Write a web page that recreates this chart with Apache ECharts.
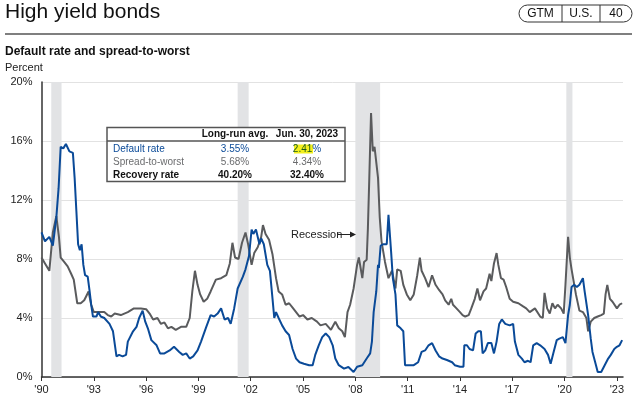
<!DOCTYPE html>
<html>
<head>
<meta charset="utf-8">
<script src="https://cdn.jsdelivr.net/npm/echarts@6/dist/echarts.min.js"></script>
<style>html,body{margin:0;padding:0;background:#fff}#c{width:640px;height:400px}</style>
</head>
<body>
<div id="c"></div>
<script>
var BASE_YEAR = 1990;
var tickYears = [1990,1993,1996,1999,2002,2005,2008,2011,2014,2017,2020,2023];
var recessions = [[1990.56,1991.15],[2001.25,2001.88],[2008.0,2009.42],[2020.1,2020.45]];

var spreadYears = [1990.0,1990.2,1990.45,1990.65,1990.85,1991.0,1991.1,1991.3,1991.5,1991.7,1991.85,1992.05,1992.25,1992.45,1992.7,1992.85,1993.0,1993.3,1993.6,1993.8,1994.0,1994.2,1994.55,1994.95,1995.3,1995.7,1996.0,1996.2,1996.4,1996.65,1996.85,1997.05,1997.25,1997.45,1997.7,1998.0,1998.3,1998.5,1998.65,1998.8,1998.95,1999.1,1999.3,1999.5,1999.7,2000.0,2000.3,2000.6,2000.8,2000.95,2001.1,2001.3,2001.5,2001.7,2001.85,2002.05,2002.2,2002.4,2002.6,2002.7,2002.85,2003.05,2003.25,2003.45,2003.6,2003.8,2004.0,2004.2,2004.4,2004.6,2004.8,2005.0,2005.25,2005.5,2005.8,2006.0,2006.3,2006.6,2006.85,2007.05,2007.25,2007.4,2007.55,2007.7,2007.9,2008.1,2008.2,2008.4,2008.5,2008.65,2008.72,2008.8,2008.9,2009.0,2009.1,2009.2,2009.3,2009.4,2009.5,2009.7,2009.9,2010.1,2010.3,2010.4,2010.6,2010.75,2010.95,2011.15,2011.35,2011.55,2011.7,2011.8,2012.0,2012.2,2012.4,2012.6,2012.8,2013.0,2013.15,2013.35,2013.5,2013.6,2013.8,2014.0,2014.15,2014.3,2014.5,2014.65,2014.85,2015.0,2015.15,2015.35,2015.5,2015.7,2015.8,2015.95,2016.1,2016.2,2016.35,2016.5,2016.65,2016.85,2017.05,2017.35,2017.6,2017.8,2018.0,2018.3,2018.6,2018.75,2018.85,2019.0,2019.15,2019.3,2019.45,2019.6,2019.8,2019.95,2020.05,2020.2,2020.3,2020.4,2020.5,2020.65,2020.85,2021.05,2021.25,2021.35,2021.5,2021.7,2021.9,2022.1,2022.25,2022.35,2022.45,2022.6,2022.75,2022.85,2023.0,2023.15,2023.3];
var spreadToWorst = [8.1,7.7,7.2,9.8,10.9,9.5,8.1,7.8,7.5,7.0,6.6,5.0,5.0,5.2,5.8,4.9,4.4,4.4,4.4,4.2,4.1,4.3,4.2,4.4,4.65,4.65,4.6,4.3,3.9,4.0,3.6,3.7,3.3,3.4,3.2,3.4,3.4,4.0,5.8,7.2,6.25,5.6,5.1,5.3,5.8,6.6,6.7,6.9,7.7,9.1,8.1,8.0,9.1,9.8,9.0,7.6,8.4,8.8,9.5,10.3,9.7,9.3,8.3,6.7,5.8,5.6,4.9,5.0,4.7,4.4,4.1,4.2,3.9,4.0,3.75,3.5,3.6,3.2,3.75,3.3,3.1,2.7,4.4,4.9,6.0,7.6,8.1,6.7,7.8,7.95,10.1,13.5,17.9,15.3,15.6,15.5,13.5,10.8,9.2,7.8,6.7,7.2,6.0,7.3,7.2,6.25,5.6,5.2,5.6,6.9,8.1,7.2,6.7,6.1,6.9,6.25,5.9,5.6,5.2,4.9,5.3,4.9,4.65,4.4,4.2,4.1,4.2,4.65,5.3,6.0,5.2,5.8,6.0,7.0,6.5,7.7,8.4,7.6,6.7,6.6,6.1,5.3,5.1,5.0,4.8,4.65,4.4,4.65,4.1,4.0,5.7,4.65,4.3,5.0,4.65,4.9,4.65,4.3,6.25,9.5,8.1,7.3,7.2,5.6,4.5,4.4,4.0,3.1,3.75,4.0,4.1,4.2,4.3,5.6,6.25,5.3,5.1,5.1,4.65,4.9,5.0];

var defaultYears = [1990.0,1990.2,1990.45,1990.65,1990.85,1990.98,1991.1,1991.25,1991.4,1991.5,1991.6,1991.8,1991.9,1992.0,1992.1,1992.2,1992.3,1992.4,1992.5,1992.65,1992.75,1992.85,1992.95,1993.15,1993.25,1993.4,1993.6,1993.9,1994.1,1994.3,1994.45,1994.65,1994.85,1994.95,1995.05,1995.25,1995.45,1995.6,1995.8,1995.95,1996.1,1996.3,1996.6,1996.8,1997.05,1997.35,1997.6,1997.9,1998.1,1998.3,1998.5,1998.7,1998.95,1999.15,1999.45,1999.7,1999.9,2000.1,2000.3,2000.5,2000.7,2000.85,2001.05,2001.25,2001.55,2001.7,2001.9,2002.05,2002.15,2002.3,2002.5,2002.6,2002.75,2002.95,2003.1,2003.25,2003.35,2003.45,2003.6,2003.8,2004.0,2004.2,2004.4,2004.6,2004.8,2005.05,2005.35,2005.55,2005.7,2005.9,2006.1,2006.3,2006.5,2006.7,2006.85,2007.05,2007.35,2007.6,2007.9,2008.1,2008.4,2008.65,2008.85,2008.95,2009.05,2009.2,2009.3,2009.35,2009.45,2009.6,2009.8,2009.9,2010.05,2010.15,2010.3,2010.4,2010.6,2010.75,2010.85,2011.05,2011.35,2011.6,2011.8,2012.0,2012.2,2012.4,2012.6,2012.8,2013.0,2013.25,2013.55,2013.7,2014.0,2014.2,2014.25,2014.4,2014.55,2014.75,2014.9,2015.05,2015.2,2015.3,2015.45,2015.6,2015.8,2015.95,2016.1,2016.25,2016.4,2016.6,2016.85,2017.05,2017.15,2017.35,2017.55,2017.7,2017.9,2018.05,2018.2,2018.4,2018.6,2018.85,2019.05,2019.2,2019.35,2019.55,2019.7,2019.9,2020.05,2020.2,2020.3,2020.4,2020.55,2020.7,2020.85,2021.05,2021.15,2021.35,2021.5,2021.6,2021.8,2021.9,2022.1,2022.3,2022.5,2022.65,2022.85,2023.0,2023.15,2023.3];
var defaultRate = [9.8,9.2,9.5,8.9,10.8,12.8,15.6,15.5,15.8,15.9,15.3,15.2,13.5,11.25,9.0,8.6,9.0,7.6,6.9,6.8,5.9,4.9,4.1,4.1,4.4,4.1,4.0,3.6,3.1,1.4,1.5,1.4,1.5,2.4,2.3,3.1,3.4,4.0,4.5,3.75,3.3,2.5,2.15,1.6,1.6,1.8,2.05,1.7,1.5,1.6,1.25,1.4,1.8,2.4,3.4,4.2,4.1,4.3,4.65,3.9,4.0,3.6,4.65,6.0,6.8,7.3,8.2,10.0,9.7,10.0,9.0,9.4,9.0,7.6,7.2,5.3,4.0,4.4,4.0,3.5,3.1,2.85,1.9,1.25,1.0,0.9,0.8,0.8,1.5,2.15,2.7,2.95,2.7,2.15,1.25,0.8,0.57,0.68,0.34,0.7,0.8,1.25,1.6,2.4,4.4,5.8,7.6,7.4,8.9,9.0,9.0,11.0,8.5,6.7,5.6,3.5,3.3,3.1,0.8,0.8,0.8,1.0,1.7,1.8,2.15,2.3,1.8,1.4,1.25,1.15,1.0,0.8,0.7,0.7,2.15,2.15,1.9,1.8,2.95,3.1,3.1,1.6,1.8,2.3,2.3,1.6,2.4,3.6,3.9,3.6,3.5,3.6,2.4,1.5,1.25,1.0,1.1,1.0,2.15,2.3,2.15,1.9,1.5,0.9,1.6,2.5,2.6,2.7,2.3,4.2,4.9,6.1,6.25,6.1,6.25,6.7,5.8,4.2,2.6,1.7,0.8,0.34,0.34,0.8,1.25,1.5,1.9,2.05,2.15,2.5];

var tableHeaders = ["Long-run avg.", "Jun. 30, 2023"];
var tableRows = [
  {label: "Default rate", avg: "3.55%", current: "2.41"},
  {label: "Spread-to-worst", avg: "5.68%", current: "4.34%"},
  {label: "Recovery rate", avg: "40.20%", current: "32.40%"}
];

var BLUE = '#0a4a98', GRAY = '#5a5b5d';
function pairs(xs, ys){ return xs.map(function(x,i){ return [x - BASE_YEAR, ys[i]]; }); }

var chart = echarts.init(document.getElementById('c'), null, {renderer:'canvas'});
var FONT = 'Liberation Sans, Arial, sans-serif';

var graphics = [
  {type:'text', left:5, top:2, style:{text:'High yield bonds', font:'21px ' + FONT, fill:'#111'}},
  {type:'line', shape:{x1:5,y1:34,x2:632,y2:34}, style:{stroke:'#555', lineWidth:1.5}},
  {type:'rect', shape:{x:519,y:5,width:113,height:17,r:8.5}, style:{fill:'#fff', stroke:'#333', lineWidth:1}},
  {type:'line', shape:{x1:562,y1:5,x2:562,y2:22}, style:{stroke:'#333', lineWidth:1}},
  {type:'line', shape:{x1:600,y1:5,x2:600,y2:22}, style:{stroke:'#333', lineWidth:1}},
  {type:'text', x:540.5, y:13.8, style:{text:'GTM', font:'12px ' + FONT, fill:'#111', align:'center', verticalAlign:'middle'}},
  {type:'text', x:581, y:13.8, style:{text:'U.S.', font:'12px ' + FONT, fill:'#111', align:'center', verticalAlign:'middle'}},
  {type:'text', x:616, y:13.8, style:{text:'40', font:'12px ' + FONT, fill:'#111', align:'center', verticalAlign:'middle'}},
  {type:'text', x:5, y:52, style:{text:'Default rate and spread-to-worst', font:'bold 12px ' + FONT, fill:'#111', verticalAlign:'middle'}},
  {type:'text', x:5, y:68, style:{text:'Percent', font:'11px ' + FONT, fill:'#222', verticalAlign:'middle'}},
  // Recession annotation
  {type:'text', x:291, y:234.5, z:50, style:{text:'Recession', font:'11px ' + FONT, fill:'#222', verticalAlign:'middle'}},
  {type:'line', z:50, shape:{x1:337,y1:234.5,x2:351,y2:234.5}, style:{stroke:'#222', lineWidth:1}},
  {type:'polygon', z:50, shape:{points:[[350,231.5],[356,234.5],[350,237.5]]}, style:{fill:'#222'}},
  // Table
  {type:'rect', z:100, shape:{x:107,y:127.5,width:238,height:54}, style:{fill:'#fff', stroke:'#555', lineWidth:1.5}},
  {type:'line', z:101, shape:{x1:107,y1:141,x2:345,y2:141}, style:{stroke:'#555', lineWidth:1.5}},
  {type:'text', z:101, x:235, y:134.5, style:{text:tableHeaders[0], font:'bold 10px ' + FONT, fill:'#111', align:'center', verticalAlign:'middle'}},
  {type:'text', z:101, x:307, y:134.5, style:{text:tableHeaders[1], font:'bold 10px ' + FONT, fill:'#111', align:'center', verticalAlign:'middle'}},
  {type:'rect', z:101, shape:{x:294,y:144.5,width:19,height:9}, style:{fill:'#f3f01e'}}
];
var rowColors = [BLUE, '#6b6c6e', '#111'];
var rowFonts = ['10px ', '10px ', 'bold 10px '];
tableRows.forEach(function(r, i){
  var y = 149 + i * 13;
  graphics.push({type:'text', z:102, x:113, y:y, style:{text:r.label, font:rowFonts[i] + FONT, fill:rowColors[i], verticalAlign:'middle'}});
  graphics.push({type:'text', z:102, x:235, y:y, style:{text:r.avg, font:rowFonts[i] + FONT, fill:rowColors[i], align:'center', verticalAlign:'middle'}});
  if (i === 0) {
    graphics.push({type:'text', z:102, x:307, y:y, style:{text:'{h|' + r.current + '}{p|%}', align:'center', verticalAlign:'middle',
      rich:{h:{font:'10px ' + FONT, fill:'#1a5a1a'}, p:{font:'10px ' + FONT, fill:BLUE}}}});
  } else {
    graphics.push({type:'text', z:102, x:307, y:y, style:{text:r.current, font:rowFonts[i] + FONT, fill:rowColors[i], align:'center', verticalAlign:'middle'}});
  }
});

var option = {
  animation:false,
  textStyle:{fontFamily:FONT},
  grid:{left:41.5, right:17, top:82, bottom:23, containLabel:false},
  xAxis:{
    type:'value', min:0, max:33.35, interval:3,
    axisLine:{show:true, lineStyle:{color:'#333', width:1.5}},
    axisTick:{show:true, length:4, lineStyle:{color:'#333'}, customValues: tickYears.map(function(y){return y-BASE_YEAR;})},
    axisLabel:{color:'#222', fontSize:11, margin:7, customValues: tickYears.map(function(y){return y-BASE_YEAR;}),
      formatter:function(v){ var y = Math.round(v + BASE_YEAR); return "'" + String(y % 100).padStart(2,'0'); }},
    splitLine:{show:false}
  },
  yAxis:{
    type:'value', min:0, max:20, interval:4,
    axisLine:{show:true, lineStyle:{color:'#333', width:1.5}},
    axisTick:{show:false},
    axisLabel:{color:'#222', fontSize:11, margin:9, formatter:'{value}%'},
    splitLine:{show:true, lineStyle:{color:'#e2e2e2', width:1}}
  },
  graphic: graphics,
  series:[
    {type:'line', data:[], z:1, silent:true,
      markArea:{silent:true, itemStyle:{color:'#e2e3e5'},
        data: recessions.map(function(r){ return [{xAxis:r[0]-BASE_YEAR},{xAxis:r[1]-BASE_YEAR}]; })}},
    {type:'line', name:'Spread-to-worst', data:pairs(spreadYears, spreadToWorst), showSymbol:false, z:3,
      lineStyle:{color:GRAY, width:2}, itemStyle:{color:GRAY}},
    {type:'line', name:'Default rate', data:pairs(defaultYears, defaultRate), showSymbol:false, z:4,
      lineStyle:{color:BLUE, width:2}, itemStyle:{color:BLUE}}
  ]
};
chart.setOption(option);
</script>
</body>
</html>
